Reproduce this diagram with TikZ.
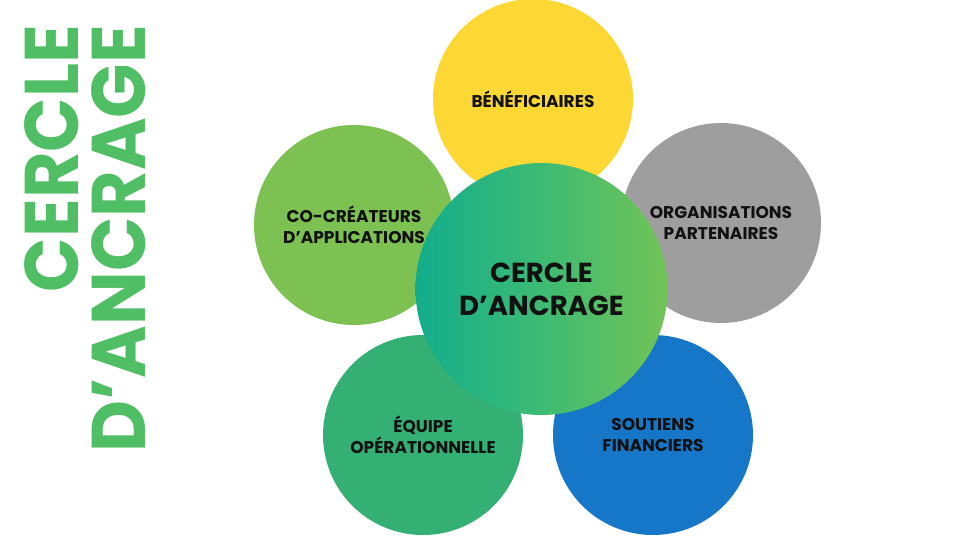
\documentclass[tikz,border=0pt]{standalone}
\usepackage{fontspec}
\setmainfont{Poppins}
\usetikzlibrary{shadings}
\definecolor{cyellow}{HTML}{FDD733}
\definecolor{clgreen}{HTML}{7CC152}
\definecolor{cgray}{HTML}{9E9E9E}
\definecolor{cdgreen}{HTML}{35B074}
\definecolor{cblue}{HTML}{1677C8}
\definecolor{cteal}{HTML}{12AD8C}
\definecolor{cmid}{HTML}{3DBB74}
\definecolor{cright}{HTML}{72C356}
\definecolor{ctitle}{HTML}{50BE64}
\definecolor{ctext}{HTML}{111111}
\tikzset{
  petal/.style={circle, minimum size=200pt, inner sep=0pt, align=center, text=ctext,
    font=\fontsize{17}{20.5}\selectfont\bfseries},
  hub/.style={circle, minimum size=252pt, inner sep=0pt, align=center, text=ctext,
    left color=cteal, right color=cright, middle color=cmid,
    font=\fontsize{27.5}{33}\selectfont\bfseries},
  titletext/.style={rotate=90, anchor=base east, inner sep=0pt, text=ctitle,
    font=\fontsize{76}{76}\selectfont\bfseries}
}
\begin{document}
\begin{tikzpicture}[x=1pt,y=-1pt]
\useasboundingbox[fill=white] (0,0) rectangle (960,540);
\node[titletext] (t1) at (78,25) {\scalebox{0.94}[1]{CERCLE}};
\node[titletext] (t2) at (145,25) {\scalebox{0.94}[1]{D’ANCRAGE}};
\node[petal, fill=cyellow] (ben) at (533,99) {BÉNÉFICIAIRES};
\node[petal, fill=clgreen] (cocr) at (354,225) {CO-CRÉATEURS\\D’APPLICATIONS};
\node[petal, fill=cgray] (org) at (721,223) {ORGANISATIONS\\PARTENAIRES};
\node[petal, fill=cdgreen] (equ) at (423,435) {ÉQUIPE\\OPÉRATIONNELLE};
\node[petal, fill=cblue] (sou) at (653,435) {SOUTIENS\\FINANCIERS};
\node[hub] (hub) at (541.5,289) {CERCLE\\D’ANCRAGE};
\end{tikzpicture}
\end{document}
